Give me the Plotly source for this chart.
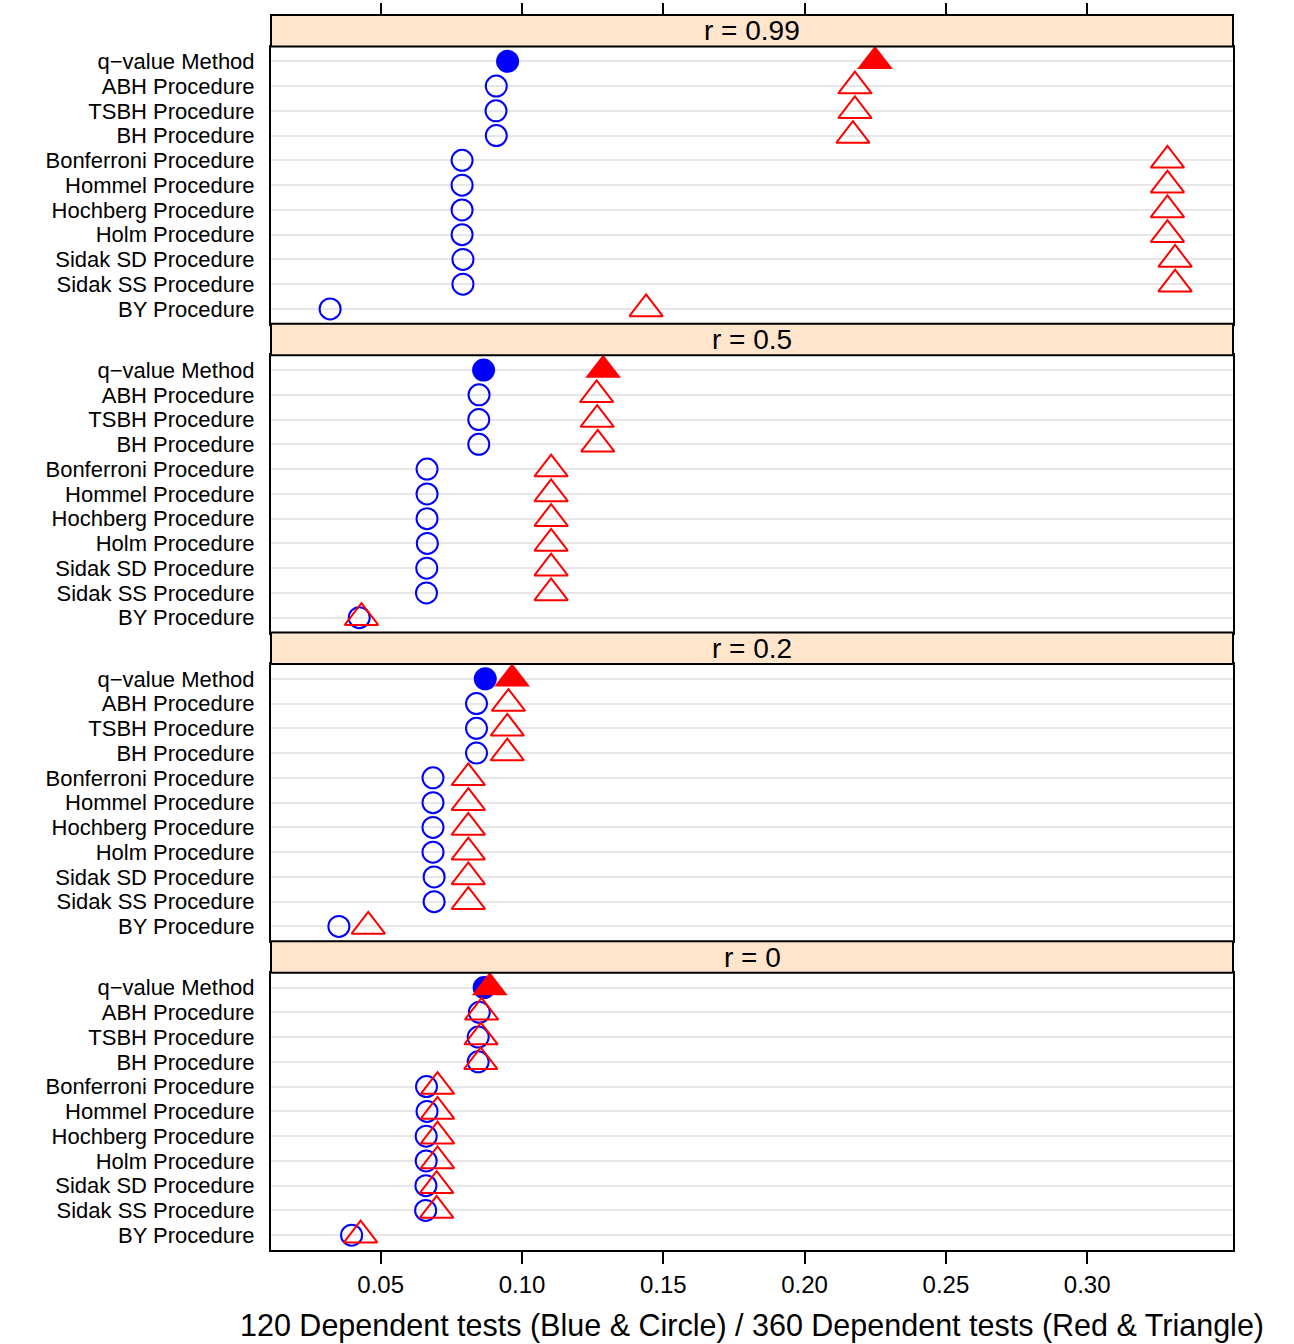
import plotly.graph_objects as go

# Procedures, listed top to bottom within each panel
methods = [
    "q\u2212value Method", "ABH Procedure", "TSBH Procedure", "BH Procedure",
    "Bonferroni Procedure", "Hommel Procedure", "Hochberg Procedure",
    "Holm Procedure", "Sidak SD Procedure", "Sidak SS Procedure", "BY Procedure",
]

# Correlation panels, top to bottom
panels = ["r = 0.99", "r = 0.5", "r = 0.2", "r = 0"]

# 120 dependent tests (blue circles), one list per panel, ordered as `methods`
tests120_r099 = [0.0949, 0.0909, 0.0908, 0.0909, 0.0788, 0.0788, 0.0788, 0.0788, 0.0791, 0.0791, 0.0321]
tests120_r05 = [0.0864, 0.0848, 0.0847, 0.0847, 0.0664, 0.0664, 0.0664, 0.0665, 0.0663, 0.0662, 0.0424]
tests120_r02 = [0.0870, 0.0839, 0.0839, 0.0839, 0.0685, 0.0685, 0.0685, 0.0685, 0.0689, 0.0689, 0.0352]
tests120_r0 = [0.0866, 0.0849, 0.0845, 0.0845, 0.0662, 0.0664, 0.0661, 0.0661, 0.0660, 0.0659, 0.0397]

# 360 dependent tests (red triangles)
tests360_r099 = [0.2249, 0.2178, 0.2178, 0.2171, 0.3284, 0.3284, 0.3284, 0.3284, 0.3311, 0.3311, 0.1439]
tests360_r05 = [0.1287, 0.1264, 0.1266, 0.1268, 0.1103, 0.1103, 0.1103, 0.1103, 0.1103, 0.1103, 0.0432]
tests360_r02 = [0.0965, 0.0952, 0.0948, 0.0948, 0.0810, 0.0810, 0.0810, 0.0810, 0.0810, 0.0810, 0.0456]
tests360_r0 = [0.0886, 0.0857, 0.0855, 0.0854, 0.0701, 0.0701, 0.0701, 0.0701, 0.0698, 0.0698, 0.0429]

blue_sets = [tests120_r099, tests120_r05, tests120_r02, tests120_r0]
red_sets = [tests360_r099, tests360_r05, tests360_r02, tests360_r0]

x_ticks = [0.05, 0.10, 0.15, 0.20, 0.25, 0.30]
x_tick_text = ["0.05", "0.10", "0.15", "0.20", "0.25", "0.30"]
x_title = "120 Dependent tests (Blue & Circle) / 360 Dependent tests (Red & Triangle)"

FONT = "Liberation Sans, Arial, sans-serif"
BLUE = "#0000FF"
RED = "#FF0000"
STRIP = "#FFE5CC"
GRID = "#E6E6E6"

W, H = 1294, 1344
ML, MR, MT, MB = 271, 61, 15, 94
plot_h = H - MT - MB
block = plot_h / 4.0
strip_h = 31.5

# row positions: first method at the top
n = len(methods)
ypos = [n - i for i in range(n)]

fig = go.Figure()
layout = dict(
    width=W, height=H,
    margin=dict(l=ML, r=MR, t=MT, b=MB, pad=0, autoexpand=False),
    paper_bgcolor="white", plot_bgcolor="white",
    showlegend=False,
    font=dict(family=FONT, color="black"),
    shapes=[], annotations=[],
)

x_range = [0.01118, 0.35159]

for i, label in enumerate(panels):
    k = i + 1
    xa = "x" if k == 1 else f"x{k}"
    ya = "y" if k == 1 else f"y{k}"
    top_px = i * block
    strip_bottom_px = top_px + strip_h
    bottom_px = (i + 1) * block
    d0 = 1 - bottom_px / plot_h
    d1 = 1 - strip_bottom_px / plot_h
    s1 = 1 - top_px / plot_h

    blue = blue_sets[i]
    red = red_sets[i]

    # blue circles (120 tests): open for procedures, filled for q-value
    fig.add_trace(go.Scatter(
        x=blue[1:], y=ypos[1:], mode="markers", xaxis=xa, yaxis=ya,
        marker=dict(symbol="circle-open", size=21, color=BLUE, line=dict(width=2, color=BLUE)),
        hoverinfo="skip"))
    fig.add_trace(go.Scatter(
        x=blue[:1], y=ypos[:1], mode="markers", xaxis=xa, yaxis=ya,
        marker=dict(symbol="circle", size=23, color=BLUE, line=dict(width=0)),
        hoverinfo="skip"))
    # red triangles (360 tests)
    fig.add_trace(go.Scatter(
        x=red[1:], y=ypos[1:], mode="markers", xaxis=xa, yaxis=ya,
        marker=dict(symbol="triangle-up-open", size=29, color=RED, line=dict(width=2, color=RED)),
        hoverinfo="skip"))
    fig.add_trace(go.Scatter(
        x=red[:1], y=ypos[:1], mode="markers", xaxis=xa, yaxis=ya,
        marker=dict(symbol="triangle-up", size=31, color=RED, line=dict(width=0)),
        hoverinfo="skip"))

    bottom = (k == len(panels))
    layout["xaxis" if k == 1 else f"xaxis{k}"] = dict(
        domain=[0, 1], anchor=ya, range=x_range, automargin=False,
        **({} if k == 1 else {"matches": "x"}),
        showgrid=False, zeroline=False,
        showline=True, mirror=True, linecolor="black", linewidth=2,
        tickvals=x_ticks, ticktext=x_tick_text,
        ticks="outside" if bottom else "", ticklen=12, tickwidth=2, tickcolor="black",
        showticklabels=bottom,
        tickfont=dict(size=24, family=FONT, color="black"),
        ticklabelstandoff=0,
    )
    layout["yaxis" if k == 1 else f"yaxis{k}"] = dict(
        domain=[d0, d1], anchor=xa, range=[0.4, n + 0.6], automargin=False,
        tickvals=ypos, ticktext=methods,
        showgrid=True, gridcolor=GRID, gridwidth=2, zeroline=False,
        showline=True, mirror=True, linecolor="black", linewidth=2,
        ticks="", ticklabelstandoff=10,
        tickfont=dict(size=22, family=FONT, color="black"),
    )

    # strip with the panel's correlation
    layout["shapes"].append(dict(
        type="rect", xref="paper", yref="paper", x0=0, x1=1, y0=d1, y1=s1,
        fillcolor=STRIP, line=dict(color="black", width=2), layer="above"))
    layout["annotations"].append(dict(
        text=label, xref="paper", yref="paper", x=0.5, y=(d1 + s1) / 2,
        xanchor="center", yanchor="middle", showarrow=False,
        font=dict(size=28, family=FONT, color="black")))

# tick marks along the top edge
fig.add_trace(go.Scatter(x=[None], y=[None], xaxis="x5", yaxis="y", hoverinfo="skip"))
layout["xaxis5"] = dict(
    overlaying="x", matches="x", anchor="free", position=1.0, side="top",
    range=x_range, tickvals=x_ticks, ticks="outside", ticklen=12, tickwidth=2,
    tickcolor="black", showticklabels=False, showgrid=False, zeroline=False,
    showline=False, automargin=False,
)

# x-axis title below the bottom panel
layout["annotations"].append(dict(
    text=x_title, xref="paper", yref="paper", x=0.5, y=-75 / plot_h,
    xanchor="center", yanchor="middle", showarrow=False,
    font=dict(size=30.5, family=FONT, color="black")))

fig.update_layout(**layout)
fig.write_html("out.html")
